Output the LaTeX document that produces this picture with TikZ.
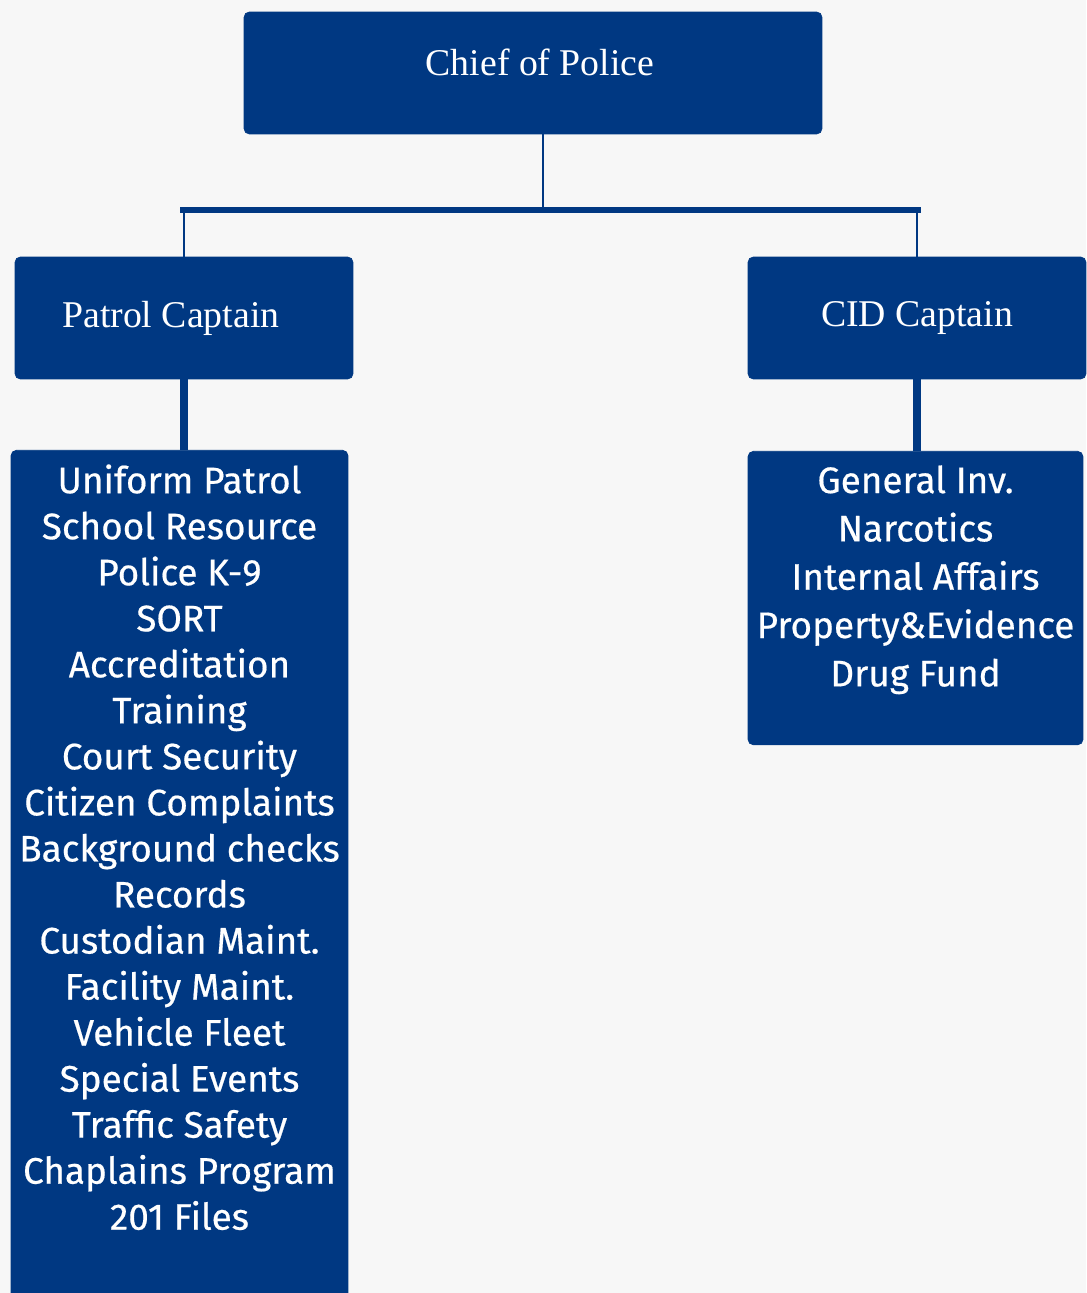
\documentclass[tikz,border=0pt]{standalone}
\usepackage{fontspec}
\setmainfont{Liberation Serif}
\setsansfont{Fira Sans}
\usetikzlibrary{positioning}
\definecolor{navy}{RGB}{0,56,130}
\definecolor{paper}{RGB}{247,247,247}
\newcommand{\unitlist}[3]{\parbox[t][#1][t]{#2}{\centering #3}}

\begin{document}
\begin{tikzpicture}[x=0.02cm,y=-0.02cm,
  box/.style={rectangle, rounded corners=3pt, fill=navy, draw=navy, text=white, inner sep=0pt},
  head/.style={box, minimum height=2.44cm, font=\fontsize{21.5}{26}\selectfont},
  unitbox/.style={box, anchor=north, inner ysep=8pt},
  thin link/.style={draw=navy, line width=1.1pt},
  thick link/.style={draw=navy, line width=4.5pt},
  bus/.style={draw=navy, line width=3.4pt}]
\useasboundingbox[fill=paper] (0,0) rectangle (1086,1293);

\node[head, minimum width=11.56cm, text depth=12pt] (chief) at (533,73) {\hspace*{8pt}Chief of Police};
\node[head, minimum width=6.76cm] (patrol) at (184,318) {Patrol Captain\hspace*{15pt}};
\node[head, minimum width=6.76cm] (cid) at (917,318) {CID Captain};

\node[unitbox] (patrol_list) at (179.5,450) {\unitlist{480pt}{6.74cm}{\sffamily\addfontfeature{FakeBold=0.5}\fontsize{21}{26.2}\selectfont
  Uniform Patrol\\ School Resource\\ Police K-9\\ SORT\\ Accreditation\\ Training\\
  Court Security\\ Citizen Complaints\\ Background checks\\ Records\\ Custodian Maint.\\
  Facility Maint.\\ Vehicle Fleet\\ Special Events\\ Traffic Safety\\ Chaplains Program\\
  201 Files}};
\node[unitbox] (cid_list) at (915.5,451) {\unitlist{151pt}{6.70cm}{\sffamily\addfontfeature{FakeBold=0.5}\fontsize{21}{27.5}\selectfont
  General Inv.\\ Narcotics\\ Internal Affairs\\ Property\&Evidence\\ Drug Fund}};

\coordinate (bus_l) at (180,210);
\coordinate (bus_m) at (543,210);
\coordinate (bus_r) at (921,210);

\draw[bus] (bus_l) -- (bus_r);
\path
(bus_m |- chief.south) edge [thin link] (bus_m)
(patrol.north) edge [thin link] (patrol.north |- bus_m)
(cid.north) edge [thin link] (cid.north |- bus_m)

(patrol.south) edge [thick link] (patrol.south |- patrol_list.north)
(cid.south) edge [thick link] (cid.south |- cid_list.north)
; %end path
\end{tikzpicture}
\end{document}
